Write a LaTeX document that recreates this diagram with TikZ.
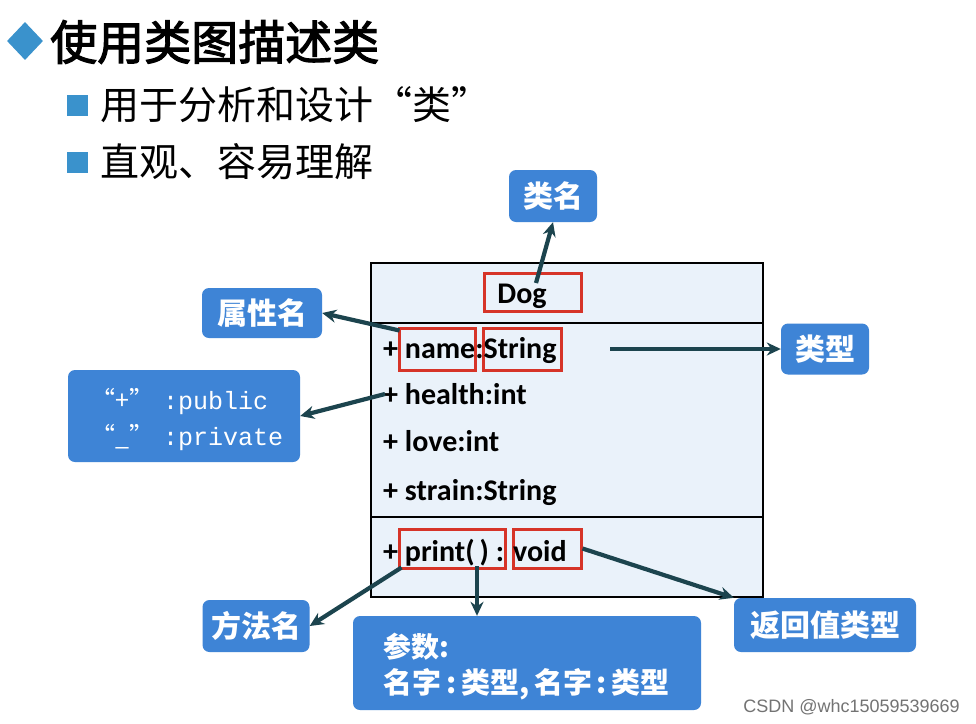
\documentclass[tikz,border=0pt]{standalone}
\usepackage{fontspec}
\setmainfont{Carlito}
\newfontfamily\cjk{Noto Sans CJK SC}
\newfontfamily\cjkmed{Noto Sans CJK SC}[FakeBold=2.5]
\newfontfamily\monof{Liberation Mono}
\usetikzlibrary{arrows.meta,shapes.geometric}
\definecolor{boxblue}{RGB}{62,132,214}
\definecolor{bulletblue}{RGB}{58,146,204}
\definecolor{arrowteal}{RGB}{28,68,78}
\definecolor{classfill}{RGB}{234,242,250}
\definecolor{redmark}{RGB}{214,52,40}
\tikzset{
  bluebox/.style={fill=boxblue, rounded corners=7pt, text=white, inner sep=0pt, font=\cjk\bfseries\fontsize{30}{34}\selectfont},
  redbox/.style={draw=redmark, line width=3pt, inner sep=0pt},
  member/.style={anchor=base west, inner sep=0pt, font=\bfseries\fontsize{30}{32}\selectfont},
  conn/.style={draw=arrowteal, line width=4.2pt, -{Stealth[length=14pt,width=13pt]}},
  sqbullet/.style={fill=bulletblue, minimum size=21pt, inner sep=0pt},
}
\begin{document}
\begin{tikzpicture}[x=1pt,y=-1pt]
\useasboundingbox[fill=white] (0,0) rectangle (976,723);

% title
\node[diamond, fill=bulletblue, minimum width=36pt, minimum height=38pt, inner sep=0pt] (dia) at (25,41) {};
\node[anchor=west, inner sep=0pt, font=\cjkmed\fontsize{47}{50}\selectfont] (title) at (50,42) {使用类图描述类};
\node[sqbullet] (b1) at (77,105) {};
\node[anchor=west, inner sep=0pt, font=\cjk\fontsize{39}{42}\selectfont] (t1) at (100,105) {用于分析和设计“类”};
\node[sqbullet] (b2) at (77,162) {};
\node[anchor=west, inner sep=0pt, font=\cjk\fontsize{39}{42}\selectfont] (t2) at (100,162) {直观、容易理解};

% class box
\draw[fill=classfill, line width=2pt] (371,263) rectangle (763,597);
\draw[line width=2pt] (371,323) -- (763,323);
\draw[line width=2pt] (371,517) -- (763,517);

\node[redbox, minimum width=97pt, minimum height=38pt] (dogbox) at (532.5,292) {};
\node[inner sep=0pt, font=\bfseries\fontsize{30}{32}\selectfont] (dog) at (522,296) {Dog};

\node[redbox, minimum width=76pt, minimum height=42pt] (namebox) at (437,349) {};
\node[redbox, minimum width=78pt, minimum height=42pt] (strbox) at (522,349) {};
\node[member] (m1) at (383,358) {+ name:String};
\node[member] (m2) at (383,404) {+ health:int};
\node[member] (m3) at (383,451) {+ love:int};
\node[member] (m4) at (383,500) {+ strain:String};

\node[redbox, minimum width=106pt, minimum height=39pt] (printbox) at (452,548.5) {};
\node[redbox, minimum width=68pt, minimum height=39pt] (voidbox) at (547,548.5) {};
\node[member] (m5) at (383,561) {+ print(\,) : void};

% label boxes
\node[bluebox, minimum width=88pt, minimum height=52pt] (leiming) at (553,196) {类名};
\node[bluebox, minimum width=120pt, minimum height=50pt] (shuxing) at (262,313) {属性名};
\node[bluebox, minimum width=88pt, minimum height=51pt] (leixing) at (825,349) {类型};
\node[bluebox, minimum width=232pt, minimum height=92pt] (vis) at (184,416) {};
\node[anchor=base west, inner sep=0pt, text=white, font=\cjk\fontsize{25}{26}\selectfont] (vp1) at (90,409) {“+”};
\node[anchor=base west, inner sep=0pt, text=white, font=\monof\fontsize{25}{26}\selectfont] (vp2) at (163,409) {:public};
\node[anchor=base west, inner sep=0pt, text=white, font=\cjk\fontsize{25}{26}\selectfont] (vq1) at (90,445) {“\_”};
\node[anchor=base west, inner sep=0pt, text=white, font=\monof\fontsize{25}{26}\selectfont] (vq2) at (163,445) {:private};
\node[bluebox, minimum width=107pt, minimum height=52pt] (fangfa) at (256,626) {方法名};
\node[bluebox, minimum width=348pt, minimum height=94pt] (canshu) at (527,663) {};
\node[anchor=west, inner sep=0pt, text=white, font=\cjk\bfseries\fontsize{28}{32}\selectfont] (cs1) at (383,647) {参数:};
\node[anchor=west, inner sep=0pt, text=white, font=\cjk\bfseries\fontsize{29}{32}\selectfont] (cs2) at (383,684) {名字\,:\,类型,\,名字\,:\,类型};
\node[bluebox, minimum width=182pt, minimum height=54pt] (fanhui) at (825,625) {返回值类型};

% connectors
\coordinate (strend) at (610,349);
\coordinate (healthstart) at (385,394);
\draw[conn] (536,283) -- (leiming.south);
\draw[conn] (namebox.north west) ++(2,4) -- (shuxing.east);
\draw[conn] (strend) -- (leixing.west);
\draw[conn] (healthstart) -- (vis.east);
\draw[conn] (printbox.south west) ++(4,-2) -- (fangfa.east);
\draw[conn] (477,566) -- (canshu.north -| 477,0);
\draw[conn] (voidbox.east) -- (fanhui.north west);

% watermark
\node[anchor=east, inner sep=0pt, text=black!55, font=\fontspec{Liberation Sans}\fontsize{18}{20}\selectfont] (wm) at (960,707) {CSDN @whc15059539669};
\end{tikzpicture}
\end{document}
